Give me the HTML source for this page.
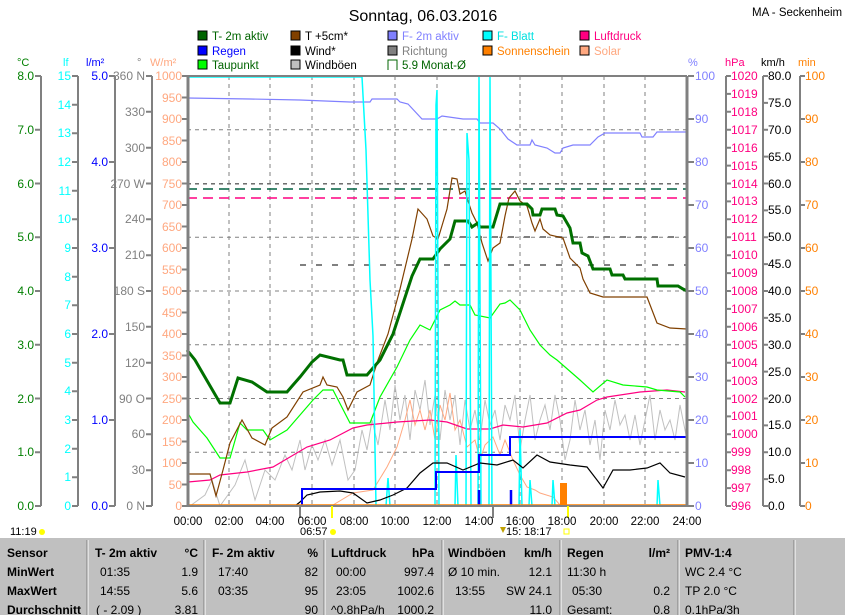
<!DOCTYPE html>
<html><head><meta charset="utf-8"><style>
body{margin:0;background:#fff;}
svg{display:block;font-family:"Liberation Sans",sans-serif;font-size:11px;}
</style></head><body>
<svg width="845" height="615" xmlns="http://www.w3.org/2000/svg">
<rect width="845" height="615" fill="#fff"/>
<text x="423" y="21" font-size="16" text-anchor="middle">Sonntag, 06.03.2016</text>
<text x="752" y="16" font-size="11.5">MA - Seckenheim</text>
<!-- legend -->
<g font-size="11.5">
<rect x="198" y="31" width="9" height="9" fill="#006400" stroke="#000"/><text x="212" y="40" fill="#006400">T- 2m aktiv</text>
<rect x="291" y="31" width="9" height="9" fill="#804000" stroke="#000"/><text x="305" y="40">T +5cm*</text>
<rect x="388" y="31" width="9" height="9" fill="#8080ff" stroke="#000"/><text x="402" y="40" fill="#8080ff">F- 2m aktiv</text>
<rect x="483" y="31" width="9" height="9" fill="#00ffff" stroke="#000"/><text x="497" y="40" fill="#00e0e0">F- Blatt</text>
<rect x="580" y="31" width="9" height="9" fill="#ff0080" stroke="#000"/><text x="594" y="40" fill="#ff0080">Luftdruck</text>
<rect x="198" y="46" width="9" height="9" fill="#0000ff" stroke="#000"/><text x="212" y="55" fill="#0000ff">Regen</text>
<rect x="291" y="46" width="9" height="9" fill="#000" stroke="#000"/><text x="305" y="55">Wind*</text>
<rect x="388" y="46" width="9" height="9" fill="#808080" stroke="#000"/><text x="402" y="55" fill="#808080">Richtung</text>
<rect x="483" y="46" width="9" height="9" fill="#ff8000" stroke="#000"/><text x="497" y="55" fill="#ff8000">Sonnenschein</text>
<rect x="580" y="46" width="9" height="9" fill="#ffa880" stroke="#000"/><text x="594" y="55" fill="#ffa880">Solar</text>
<rect x="198" y="60" width="9" height="9" fill="#00ff00" stroke="#000"/><text x="212" y="69" fill="#006400">Taupunkt</text>
<rect x="291" y="60" width="9" height="9" fill="#c0c0c0" stroke="#000"/><text x="305" y="69">Windböen</text>
<path d="M388 70V60h9v10" fill="none" stroke="#006400"/><text x="402" y="69" fill="#006400">5.9 Monat-Ø</text>
</g>
<!-- units -->
<text x="17" y="66" fill="#008000">°C</text>
<text x="63" y="66" fill="#00ffff">lf</text>
<text x="86" y="66" fill="#0000ff">l/m²</text>
<text x="137" y="66" fill="#808080">°</text>
<text x="150" y="66" fill="#ffa880">W/m²</text>
<text x="688" y="66" fill="#8080ff">%</text>
<text x="725" y="66" fill="#ff0080">hPa</text>
<text x="761" y="66" fill="#000">km/h</text>
<text x="798" y="66" fill="#ff8000">min</text>
<!-- grid -->
<g stroke="#808080" stroke-dasharray="4,4" stroke-width="1">
<path d="M187 129.75H687M187 183.5H687M187 237.25H687M187 291H687M187 344.75H687M187 398.5H687M187 452.25H687"/>
<path d="M229 76V506M270 76V506M312 76V506M354 76V506M395 76V506M437 76V506M479 76V506M520 76V506M562 76V506M604 76V506M645 76V506"/>
</g>
<!-- left axes -->
<g stroke="#808080" stroke-width="2" fill="none">
<path d="M41 76V506M78 76V506M115 76V506M152 76V506"/>
<path d="M35 76H41M35 129.75H41M35 183.5H41M35 237.25H41M35 291H41M35 344.75H41M35 398.5H41M35 452.25H41M35 506H41"/>
<path d="M72 76H78M72 104.7H78M72 133.3H78M72 162H78M72 190.7H78M72 219.3H78M72 248H78M72 276.7H78M72 305.3H78M72 334H78M72 362.7H78M72 391.3H78M72 420H78M72 448.7H78M72 477.3H78M72 506H78"/>
<path d="M109 76H115M109 162H115M109 248H115M109 334H115M109 420H115M109 506H115"/>
<path d="M146 76H152M146 111.8H152M146 147.7H152M146 183.5H152M146 219.3H152M146 255.2H152M146 291H152M146 326.8H152M146 362.7H152M146 398.5H152M146 434.3H152M146 470.2H152M146 506H152"/>
<path d="M182 76H188M182 97.5H188M182 119H188M182 140.5H188M182 162H188M182 183.5H188M182 205H188M182 226.5H188M182 248H188M182 269.5H188M182 291H188M182 312.5H188M182 334H188M182 355.5H188M182 377H188M182 398.5H188M182 420H188M182 441.5H188M182 463H188M182 484.5H188M182 506H188"/>
</g>
<g text-anchor="end" font-size="12">
<g fill="#008000"><text x="34" y="80">8.0</text><text x="34" y="134">7.0</text><text x="34" y="188">6.0</text><text x="34" y="241">5.0</text><text x="34" y="295">4.0</text><text x="34" y="349">3.0</text><text x="34" y="403">2.0</text><text x="34" y="456">1.0</text><text x="34" y="510">0.0</text></g>
<g fill="#00ffff"><text x="71" y="80">15</text><text x="71" y="109">14</text><text x="71" y="137">13</text><text x="71" y="166">12</text><text x="71" y="195">11</text><text x="71" y="223">10</text><text x="71" y="252">9</text><text x="71" y="281">8</text><text x="71" y="309">7</text><text x="71" y="338">6</text><text x="71" y="367">5</text><text x="71" y="395">4</text><text x="71" y="424">3</text><text x="71" y="453">2</text><text x="71" y="481">1</text><text x="71" y="510">0</text></g>
<g fill="#0000ff"><text x="108" y="80">5.0</text><text x="108" y="166">4.0</text><text x="108" y="252">3.0</text><text x="108" y="338">2.0</text><text x="108" y="424">1.0</text><text x="108" y="510">0.0</text></g>
<g fill="#808080"><text x="145" y="80">360 N</text><text x="145" y="116">330</text><text x="145" y="152">300</text><text x="145" y="188">270 W</text><text x="145" y="223">240</text><text x="145" y="259">210</text><text x="145" y="295">180 S</text><text x="145" y="331">150</text><text x="145" y="367">120</text><text x="145" y="403">90 O</text><text x="145" y="438">60</text><text x="145" y="474">30</text><text x="145" y="510">0 N</text></g>
<g fill="#ffa880"><text x="182" y="80">1000</text><text x="182" y="102">950</text><text x="182" y="123">900</text><text x="182" y="145">850</text><text x="182" y="166">800</text><text x="182" y="188">750</text><text x="182" y="209">700</text><text x="182" y="231">650</text><text x="182" y="252">600</text><text x="182" y="274">550</text><text x="182" y="295">500</text><text x="182" y="317">450</text><text x="182" y="338">400</text><text x="182" y="360">350</text><text x="182" y="381">300</text><text x="182" y="403">250</text><text x="182" y="424">200</text><text x="182" y="446">150</text><text x="182" y="467">100</text><text x="182" y="489">50</text><text x="182" y="510">0</text></g>
</g>
<!-- right axes -->
<g stroke="#808080" stroke-width="2" fill="none">
<path d="M726 76V506M763 76V506M800 76V506"/>
<path d="M688 76H694M688 119H694M688 162H694M688 205H694M688 248H694M688 291H694M688 334H694M688 377H694M688 420H694M688 463H694M688 506H694"/>
<path d="M726 76H731M726 93.9H731M726 111.8H731M726 129.75H731M726 147.7H731M726 165.6H731M726 183.5H731M726 201.4H731M726 219.3H731M726 237.25H731M726 255.2H731M726 273.1H731M726 291H731M726 308.9H731M726 326.8H731M726 344.75H731M726 362.7H731M726 380.6H731M726 398.5H731M726 416.4H731M726 434.3H731M726 452.25H731M726 470.2H731M726 488.1H731M726 506H731"/>
<path d="M763 76H768M763 102.9H768M763 129.75H768M763 156.6H768M763 183.5H768M763 210.4H768M763 237.25H768M763 264.1H768M763 291H768M763 317.9H768M763 344.75H768M763 371.6H768M763 398.5H768M763 425.4H768M763 452.25H768M763 479.1H768M763 506H768"/>
<path d="M800 76H805M800 119H805M800 162H805M800 205H805M800 248H805M800 291H805M800 334H805M800 377H805M800 420H805M800 463H805M800 506H805"/>
</g>
<g font-size="12">
<g fill="#8080ff"><text x="695" y="80">100</text><text x="695" y="123">90</text><text x="695" y="166">80</text><text x="695" y="209">70</text><text x="695" y="252">60</text><text x="695" y="295">50</text><text x="695" y="338">40</text><text x="695" y="381">30</text><text x="695" y="424">20</text><text x="695" y="467">10</text><text x="695" y="510">0</text></g>
<g fill="#ff0080"><text x="731" y="80">1020</text><text x="731" y="98">1019</text><text x="731" y="116">1018</text><text x="731" y="134">1017</text><text x="731" y="152">1016</text><text x="731" y="170">1015</text><text x="731" y="188">1014</text><text x="731" y="205">1013</text><text x="731" y="223">1012</text><text x="731" y="241">1011</text><text x="731" y="259">1010</text><text x="731" y="277">1009</text><text x="731" y="295">1008</text><text x="731" y="313">1007</text><text x="731" y="331">1006</text><text x="731" y="349">1005</text><text x="731" y="367">1004</text><text x="731" y="385">1003</text><text x="731" y="403">1002</text><text x="731" y="420">1001</text><text x="731" y="438">1000</text><text x="731" y="456">999</text><text x="731" y="474">998</text><text x="731" y="492">997</text><text x="731" y="510">996</text></g>
<g fill="#000"><text x="768" y="80">80.0</text><text x="768" y="107">75.0</text><text x="768" y="134">70.0</text><text x="768" y="161">65.0</text><text x="768" y="188">60.0</text><text x="768" y="214">55.0</text><text x="768" y="241">50.0</text><text x="768" y="268">45.0</text><text x="768" y="295">40.0</text><text x="768" y="322">35.0</text><text x="768" y="349">30.0</text><text x="768" y="376">25.0</text><text x="768" y="403">20.0</text><text x="768" y="429">15.0</text><text x="768" y="456">10.0</text><text x="768" y="483">5.0</text><text x="768" y="510">0.0</text></g>
<g fill="#ff8000"><text x="805" y="80">100</text><text x="805" y="123">90</text><text x="805" y="166">80</text><text x="805" y="209">70</text><text x="805" y="252">60</text><text x="805" y="295">50</text><text x="805" y="338">40</text><text x="805" y="381">30</text><text x="805" y="424">20</text><text x="805" y="467">10</text><text x="805" y="510">0</text></g>
</g>
<!-- dashed reference lines -->
<path d="M187 184H687" stroke="#606060" stroke-dasharray="4,4"/>
<path d="M187 189H687" stroke="#006040" stroke-width="1.5" stroke-dasharray="10,6"/>
<path d="M187 198H687" stroke="#ff0080" stroke-width="1.5" stroke-dasharray="10,6"/>
<path d="M460 237H687M300 265H687" stroke="#808080" stroke-width="2" stroke-dasharray="6,10"/>
<!-- windböen -->
<polyline fill="none" stroke="#c0c0c0" points="190,506 205,495 212,480 220,506 235,485 245,460 255,500 265,470 275,480 285,455 292,470 300,440 305,470 312,445 318,460 325,440 332,465 340,440 348,480 355,470 362,430 367,450 372,420 378,445 385,400 390,430 395,385 400,420 405,395 410,440 415,390 420,410 425,380 430,425 435,395 440,440 445,390 450,420 455,395 460,445 465,400 470,430 475,410 480,440 485,400 490,425 495,410 500,440 505,405 510,420 515,395 520,450 525,420 530,395 535,440 540,420 545,405 550,430 555,395 560,420 565,460 570,440 575,400 580,430 585,410 590,445 595,420 600,460 605,410 610,430 615,400 620,425 625,415 630,440 635,415 640,445 645,420 650,395 655,440 660,410 665,430 670,420 675,440 680,405 687,440"/>
<!-- solar -->
<polyline fill="none" stroke="#ffa880" points="333,505 353,493 373,490 387,467 397,447 405,420 410,400 415,425 420,410 425,430 430,410 435,440 440,405 445,420 450,393 455,430 460,420 467,447 475,440 480,460 485,445 493,437 500,455 505,440 513,460 520,475 527,487 535,490 540,493 553,497 560,505 567,505"/>
<!-- luftdruck -->
<polyline fill="none" stroke="#ff0080" stroke-width="1.2" points="188,482 210,480 220,475 247,472 273,467 290,457 307,447 330,440 353,428 367,425 397,422 430,420 447,422 467,429 490,429 503,425 523,427 547,423 567,413 580,410 597,400 607,397 640,392 667,390 685,392"/>
<!-- F-2m -->
<polyline fill="none" stroke="#8080ff" stroke-width="1.2" points="187,98 250,99 300,100 350,102 370,102 372,99 397,99 400,102 408,104 422,119 437,119 442,116 463,119 477,119 480,123 493,123 500,129 508,139 517,145 530,145 532,140 535,145 547,148 555,153 560,153 563,148 573,145 590,145 598,137 605,133 640,133 642,137 653,137 657,132 687,132"/>
<!-- taupunkt -->
<polyline fill="none" stroke="#00ff00" stroke-width="1.2" points="188,413 193,422 207,438 220,458 230,458 240,423 247,430 263,430 270,440 287,430 313,400 323,390 333,390 350,423 370,423 380,397 397,367 410,340 420,325 430,330 440,310 450,305 455,301 460,305 470,305 475,315 490,318 500,304 505,303 510,300 520,310 530,330 540,345 550,355 557,360 580,380 593,392 607,380 623,385 647,387 657,390 680,392 685,397"/>
<!-- T+5cm -->
<polyline fill="none" stroke="#804000" stroke-width="1.2" points="188,474 210,474 216,496 223,470 230,443 242,420 252,438 265,445 272,428 287,417 303,392 320,385 323,377 327,385 337,387 343,397 348,410 357,392 370,385 378,360 388,334 400,289 412,239 418,209 427,219 433,236 438,239 447,209 452,178 457,179 460,194 465,191 468,201 472,213 477,223 482,243 488,261 493,248 500,243 505,216 509,198 515,191 520,201 527,206 532,223 535,231 540,219 543,229 550,235 563,238 570,258 580,268 583,279 590,293 603,297 647,297 657,323 670,328 687,329"/>
<!-- T-2m -->
<polyline fill="none" stroke="#007000" stroke-width="3" points="187,350 195,360 220,403 230,403 238,378 252,382 267,392 287,392 293,385 300,377 312,362 320,355 340,360 343,360 347,375 367,375 373,368 380,360 393,334 412,276 420,259 433,259 440,249 450,239 455,221 468,221 472,227 478,223 480,227 493,227 500,204 527,204 532,209 533,215 540,215 542,209 555,209 557,215 563,216 570,228 573,243 580,243 582,253 588,256 593,269 610,269 612,275 623,275 625,279 657,279 658,286 678,286 683,289 687,291"/>
<!-- F-Blatt -->
<polyline fill="none" stroke="#00ffff" stroke-width="1.5" points="187,77 362,77 366,150 370,280 373,336 376,506 386,506 388,478 390,506 435,506 436,105 437,90 439,506 455,506 456,455 458,506 466,506 467,133 469,160 471,506 478,506 479,76 481,506 489,506 490,76 492,506 519,506 520,430 522,506 529,506 530,480 532,506 552,506 553,480 555,506 657,506 658,480 660,506 687,506"/>
<!-- wind -->
<polyline fill="none" stroke="#000" stroke-width="1.2" points="295,506 300,502 307,495 320,492 340,491 353,493 367,503 380,500 393,495 407,488 420,473 433,463 447,463 463,470 480,463 497,465 513,460 523,468 537,455 550,462 570,465 587,467 597,480 603,488 613,470 630,470 647,468 660,463 670,473 685,477"/>
<!-- rain -->
<polyline fill="none" stroke="#0000ff" stroke-width="2" points="302,506 302,489 436,489 436,472 479,472 479,455 510,455 510,437 687,437"/>
<path d="M479 506V490M511 506V490" stroke="#0000ff" stroke-width="2.5"/>
<rect x="560" y="483" width="7" height="23" fill="#ff8000"/>
<path d="M187 505H687" stroke="#ff8000" stroke-width="1.5"/>
<!-- frame -->
<path d="M187 76H687" stroke="#808080" stroke-width="2"/>
<path d="M187 506H687" stroke="#808080" stroke-width="2"/>
<path d="M188 76V507M687 76V507" stroke="#808080" stroke-width="3"/>
<path d="M300 506V518M493 506V518" stroke="#808080" stroke-width="2"/>
<path d="M332 506V518M568 506V518" stroke="#ffff00" stroke-width="2"/>
<!-- x labels -->
<g font-size="11.5" text-anchor="middle">
<text x="188" y="525">00:00</text><text x="229" y="525">02:00</text><text x="270" y="525">04:00</text><text x="312" y="525">06:00</text><text x="354" y="525">08:00</text><text x="395" y="525">10:00</text><text x="437" y="525">12:00</text><text x="479" y="525">14:00</text><text x="520" y="525">16:00</text><text x="562" y="525">18:00</text><text x="604" y="525">20:00</text><text x="645" y="525">22:00</text><text x="687" y="525">24:00</text>
</g>
<g font-size="11">
<text x="10" y="535">11:19</text><circle cx="42" cy="532" r="3" fill="#ffff00"/>
<text x="300" y="535">06:57</text><circle cx="333" cy="532" r="3" fill="#ffff00"/>
<text x="506" y="535">15:</text><text x="524" y="535">18:17</text><rect x="564" y="529" width="5" height="5" fill="none" stroke="#ffff00"/>
<path d="M500 527l3 6l3-6z" fill="#c0a000"/>
</g>
<!-- table -->
<rect x="0" y="538" width="845" height="77" fill="#c0c0c0"/>
<g stroke="#fff" stroke-width="1"><path d="M88 540V615M205 540V615M325 540V615M443 540V615M561 540V615M679 540V615M795 540V615"/></g>
<g stroke="#808080" stroke-width="1"><path d="M87 540V615M204 540V615M324 540V615M442 540V615M560 540V615M678 540V615M794 540V615"/></g>
<g font-size="12">
<g font-weight="bold"><text x="7" y="557">Sensor</text><text x="7" y="576">MinWert</text><text x="7" y="595">MaxWert</text><text x="7" y="614">Durchschnitt</text>
<text x="95" y="557">T- 2m aktiv</text><text x="198" y="557" text-anchor="end">°C</text>
<text x="212" y="557">F- 2m aktiv</text><text x="318" y="557" text-anchor="end">%</text>
<text x="331" y="557">Luftdruck</text><text x="434" y="557" text-anchor="end">hPa</text>
<text x="448" y="557">Windböen</text><text x="552" y="557" text-anchor="end">km/h</text>
<text x="567" y="557">Regen</text><text x="670" y="557" text-anchor="end">l/m²</text>
<text x="685" y="557">PMV-1:4</text></g>
<text x="100" y="576">01:35</text><text x="198" y="576" text-anchor="end">1.9</text>
<text x="100" y="595">14:55</text><text x="198" y="595" text-anchor="end">5.6</text>
<text x="96" y="614">( - 2.09 )</text><text x="198" y="614" text-anchor="end">3.81</text>
<text x="218" y="576">17:40</text><text x="318" y="576" text-anchor="end">82</text>
<text x="218" y="595">03:35</text><text x="318" y="595" text-anchor="end">95</text>
<text x="318" y="614" text-anchor="end">90</text>
<text x="336" y="576">00:00</text><text x="434" y="576" text-anchor="end">997.4</text>
<text x="336" y="595">23:05</text><text x="434" y="595" text-anchor="end">1002.6</text>
<text x="331" y="614">^0.8hPa/h</text><text x="434" y="614" text-anchor="end">1000.2</text>
<text x="448" y="576">Ø 10 min.</text><text x="552" y="576" text-anchor="end">12.1</text>
<text x="455" y="595">13:55</text><text x="552" y="595" text-anchor="end">SW 24.1</text>
<text x="552" y="614" text-anchor="end">11.0</text>
<text x="567" y="576">11:30 h</text>
<text x="572" y="595">05:30</text><text x="670" y="595" text-anchor="end">0.2</text>
<text x="567" y="614">Gesamt:</text><text x="670" y="614" text-anchor="end">0.8</text>
<text x="685" y="576">WC 2.4 °C</text>
<text x="685" y="595">TP 2.0 °C</text>
<text x="685" y="614">0.1hPa/3h</text>
</g>
</svg>
</body></html>
